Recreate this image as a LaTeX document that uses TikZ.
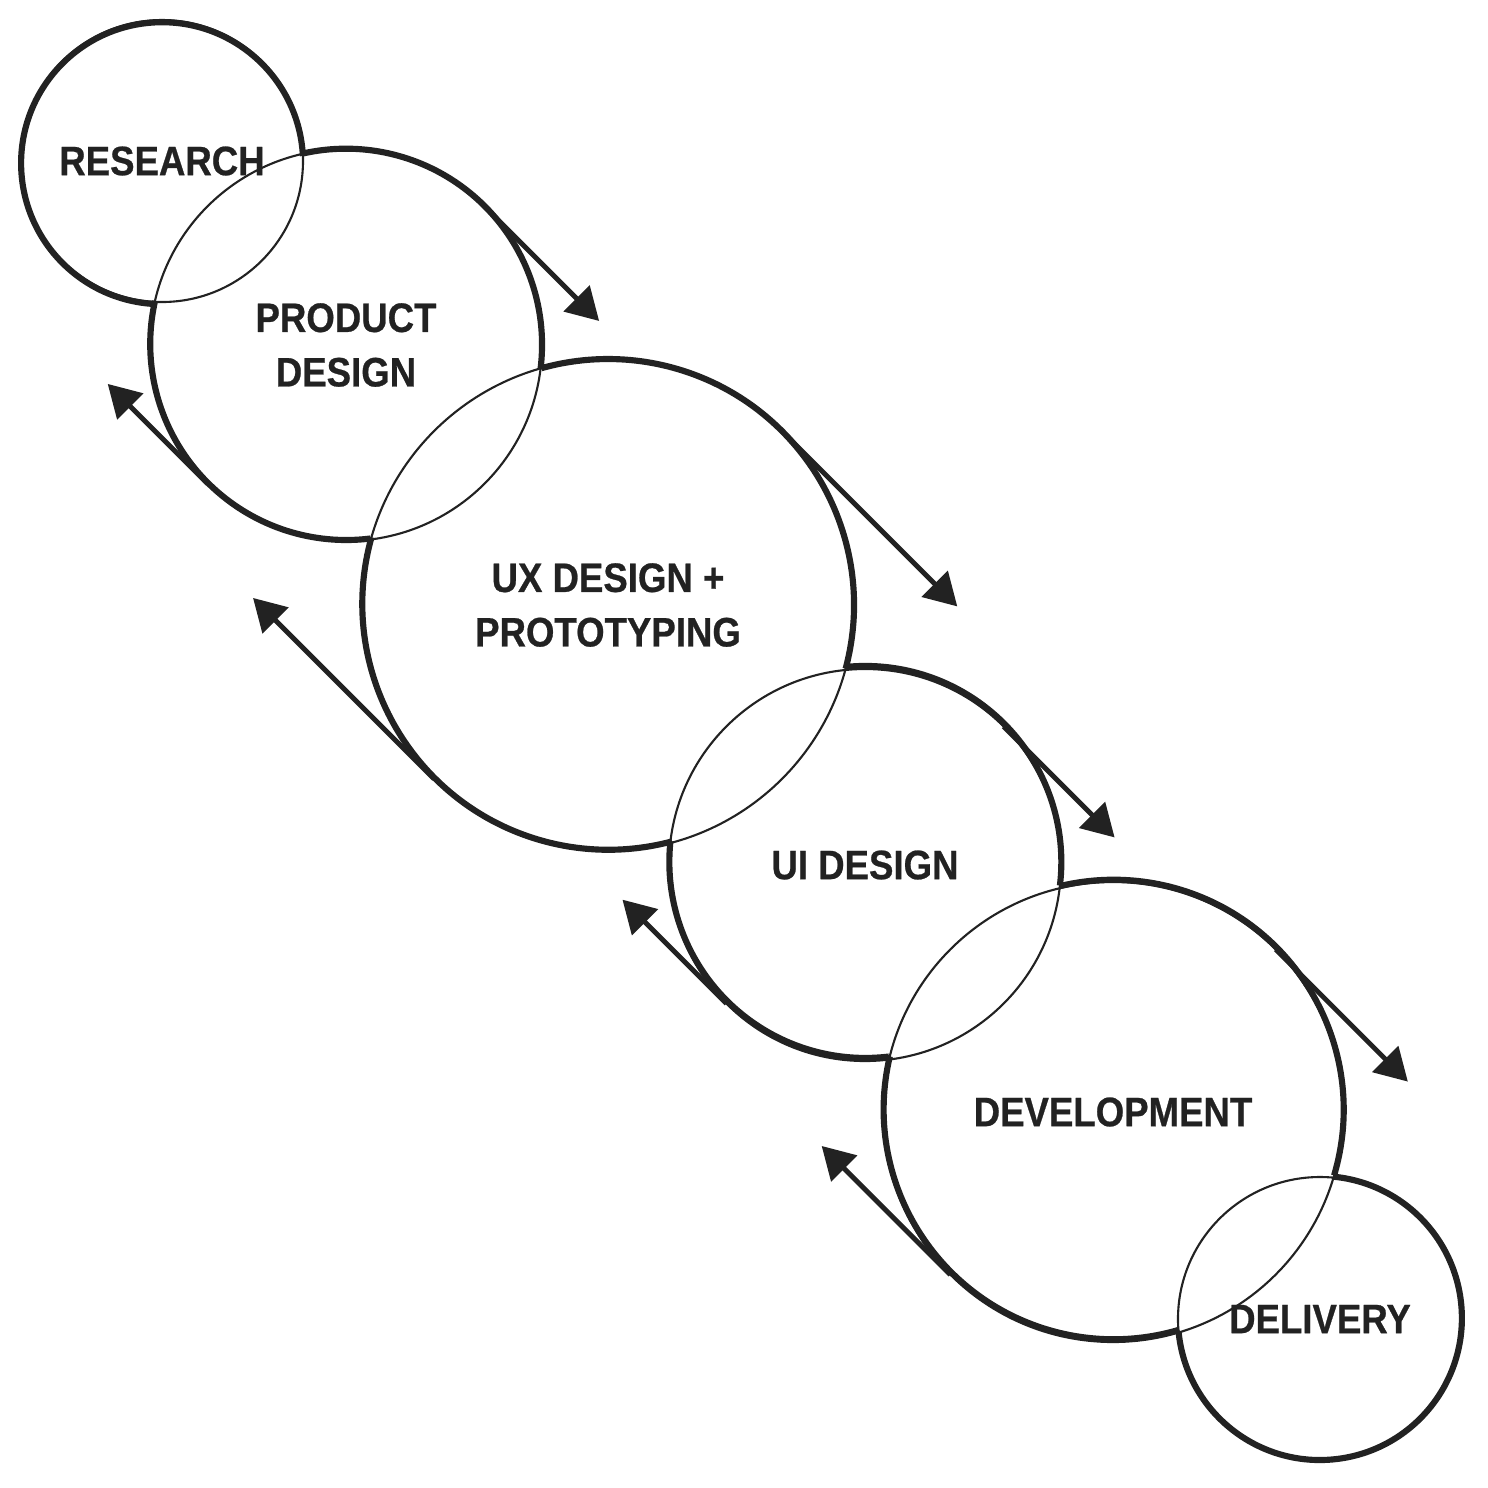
\documentclass[tikz,border=0pt]{standalone}
\usepackage{fontspec}
\newfontfamily\stagefont{Liberation Sans}[FakeStretch=0.89, FakeBold=0.6]
\usepackage{tikz}
\usetikzlibrary{arrows.meta}

\definecolor{ink}{HTML}{222222}

\begin{document}
\begin{tikzpicture}[>={Triangle[length=3.2mm, width=3.6mm]},
		stage/.style={circle, draw=ink, line width=0.6pt, minimum size=#1, inner sep=0pt, outer sep=0pt, text=ink, align=center, font=\stagefont\bfseries\fontsize{11.7}{15.5}\selectfont},
		rim/.style={draw=ink, line width=1.75pt},
		flow/.style={draw=ink, line width=1.4pt, ->}]
		        \useasboundingbox (0,0) rectangle (14.88,-14.88);
		        \node[stage=2.82cm] (research) at (1.62,-1.61) {RESEARCH};
		        \node[stage=3.92cm] (product) at (3.46,-3.45) {PRODUCT\\DESIGN};
		        \node[stage=4.92cm] (ux) at (6.08,-6.05) {UX DESIGN +\\PROTOTYPING};
		        \node[stage=3.92cm] (ui) at (8.65,-8.65) {UI DESIGN};
		        \node[stage=4.60cm] (development) at (11.13,-11.12) {DEVELOPMENT};
		        \node[stage=2.84cm] (delivery) at (13.20,-13.19) {DELIVERY};
		        \draw[rim] (research.2.9) arc[start angle=2.9, end angle=267.1, radius=1.41];
		        \draw[rim] (product.-7.1) arc[start angle=-7.1, end angle=102.7, radius=1.96];
		        \draw[rim] (product.167.3) arc[start angle=167.3, end angle=277.1, radius=1.96];
		        \draw[rim] (ux.-15) arc[start angle=-15, end angle=105.7, radius=2.46];
		        \draw[rim] (ux.164.3) arc[start angle=164.3, end angle=285, radius=2.46];
		        \draw[rim] (ui.-6.9) arc[start angle=-6.9, end angle=96.1, radius=1.96];
		        \draw[rim] (ui.173.9) arc[start angle=173.9, end angle=276.9, radius=1.96];
		        \draw[rim] (development.-16.6) arc[start angle=-16.6, end angle=103.3, radius=2.3];
		        \draw[rim] (development.166.7) arc[start angle=166.7, end angle=286.6, radius=2.3];
		        \draw[rim] (delivery.185.4) arc[start angle=185.4, end angle=444.6, radius=1.42];
		        \draw[flow] (product.45) -- ++(-45:1.62);
		        \draw[flow] (product.225) -- ++(135:1.41);
		        \draw[flow] (ux.45) -- ++(-45:2.48);
		        \draw[flow] (ux.225) -- ++(135:2.56);
		        \draw[flow] (ui.45) -- ++(-45:1.57);
		        \draw[flow] (ui.225) -- ++(135:1.47);
		        \draw[flow] (development.45) -- ++(-45:1.87);
		        \draw[flow] (development.225) -- ++(135:1.82);
		    \end{tikzpicture}
\end{document}
